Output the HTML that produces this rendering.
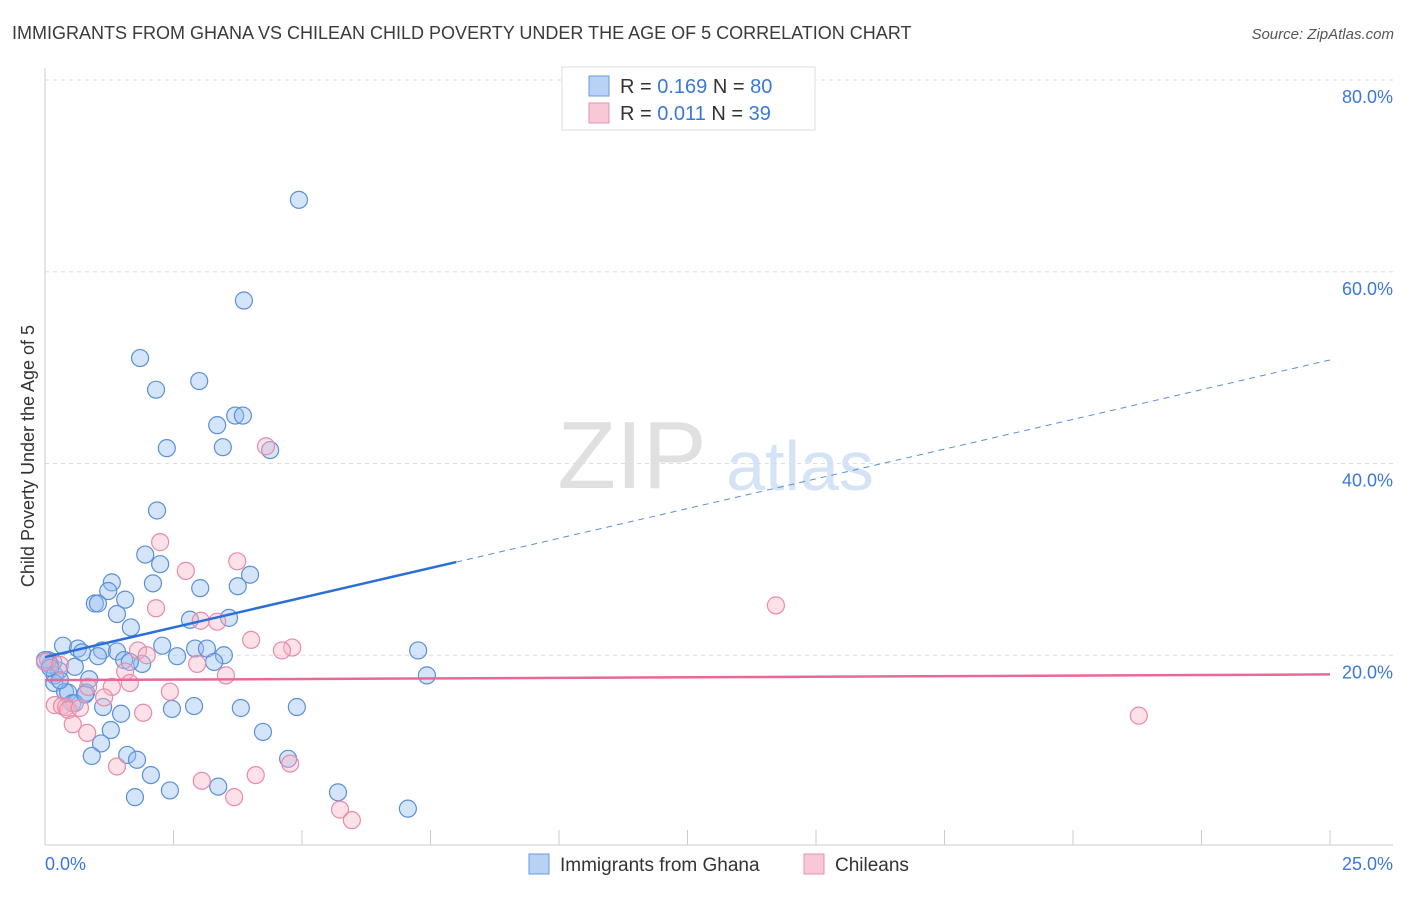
<!DOCTYPE html>
<html><head><meta charset="utf-8"><style>
body{margin:0;background:#fff;font-family:"Liberation Sans",sans-serif;}
svg text{font-family:"Liberation Sans",sans-serif;}
</style></head><body>
<svg id="chart" width="1406" height="892" xmlns="http://www.w3.org/2000/svg">
<text x="12" y="39" font-size="18" fill="#3a3a3a">IMMIGRANTS FROM GHANA VS CHILEAN CHILD POVERTY UNDER THE AGE OF 5 CORRELATION CHART</text>
<text x="1394" y="39" font-size="15" fill="#555" font-style="italic" text-anchor="end">Source: ZipAtlas.com</text>
<text x="632" y="488" font-size="96" fill="#e0e0e0" text-anchor="middle" font-family="Liberation Serif">ZIP</text>
<text x="800" y="490" font-size="70" fill="#d4e3f5" text-anchor="middle">atlas</text>
<g id="grid"></g>
<g id="axes"></g>
<g id="points"></g>
<g id="trends"></g>
<text transform="translate(34,456) rotate(-90)" font-size="18" fill="#333" text-anchor="middle">Child Poverty Under the Age of 5</text>
<g>
<rect x="562" y="67" width="253" height="63" fill="#fff" stroke="#ddd"/>
<rect x="589" y="76" width="20" height="20" fill="#b8d2f5" stroke="#6a9ae0"/>
<rect x="589" y="103" width="20" height="20" fill="#f9c8d6" stroke="#e890aa"/>
<text x="620" y="93" font-size="20" fill="#333">R = <tspan fill="#3b78d8">0.169</tspan>   N = <tspan fill="#3b78d8">80</tspan></text>
<text x="620" y="120" font-size="20" fill="#333">R = <tspan fill="#3b78d8"> 0.011</tspan>   N = <tspan fill="#3b78d8"> 39</tspan></text>
</g>
<g>
<rect x="529" y="854" width="20" height="20" fill="#b8d2f5" stroke="#6a9ae0"/>
<text x="560" y="871" font-size="19" fill="#333">Immigrants from Ghana</text>
<rect x="804" y="854" width="20" height="20" fill="#f9c8d6" stroke="#e890aa"/>
<text x="835" y="871" font-size="19" fill="#333">Chileans</text>
</g>
</svg>
<script>
const xTicks=[0,25];
const yTicks=[20,40,60,80];
const ghanaX=[4.94,3.87,1.85,3.00,2.16,3.70,3.85,3.35,2.37,3.46,4.38,2.18,1.95,2.24,3.99,1.30,2.10,3.02,3.75,1.23,0.97,1.03,1.56,1.40,3.58,2.82,1.67,0.35,0.64,0.72,1.11,1.40,2.28,2.92,3.15,3.48,1.03,1.54,1.89,1.65,2.57,3.29,0.58,0.27,0.16,0.10,0.06,0.19,0.18,0.86,0.39,0.45,0.80,0.53,0.58,1.13,2.90,2.47,4.90,3.81,1.48,1.28,4.24,1.09,0.91,1.60,1.79,4.73,2.06,1.75,2.43,3.37,5.70,7.06,7.26,7.43,0.0,0.10,0.29,0.78];
const ghanaY=[67.5,57.0,51.0,48.6,47.7,45.0,45.0,44.0,41.6,41.7,41.4,35.1,30.5,29.5,28.4,27.6,27.5,27.0,27.2,26.7,25.4,25.4,25.8,24.3,23.9,23.7,22.9,21.0,20.7,20.3,20.5,20.4,21.0,20.7,20.7,20.0,19.9,19.5,19.1,19.3,19.9,19.3,18.8,18.4,19.3,19.0,19.5,17.9,17.1,17.5,16.2,16.1,16.1,15.0,15.0,14.6,14.7,14.4,14.6,14.5,13.9,12.2,12.0,10.8,9.5,9.6,9.1,9.2,7.5,5.2,5.9,6.3,5.7,4.0,20.5,17.9,19.5,18.7,17.4,15.9];
const chileX=[4.30,2.24,3.74,2.74,2.16,3.03,3.35,4.81,4.61,4.01,1.81,1.98,2.96,1.56,3.52,1.65,1.30,0.84,2.43,1.15,0.19,0.33,0.41,0.45,0.68,0.54,0.82,1.91,1.40,3.05,4.10,3.68,4.77,5.74,5.97,14.22,21.28,0.0,0.29];
const chileY=[41.8,31.8,29.8,28.8,24.9,23.6,23.5,20.8,20.5,21.6,20.5,20.0,19.1,18.3,17.9,17.1,16.7,16.7,16.2,15.6,14.8,14.7,14.6,14.3,14.5,12.8,11.9,14.0,8.4,6.9,7.5,5.2,8.7,3.9,2.8,25.2,13.7,19.3,19.0];
const ghanaTrend=[19.8,50.8]; // y at x=0 and x=25
const ghanaSolidEnd=8.0;
const chileTrend=[17.4,18.0];

const NS="http://www.w3.org/2000/svg";
const X0=45,X1=1330,Y0=847,PXY=191.75/20;
const sx=v=>X0+(v-0)/25*(X1-X0);
const sy=v=>Y0-v*PXY;
function mk(t,a,p){const e=document.createElementNS(NS,t);for(const k in a)e.setAttribute(k,a[k]);p.appendChild(e);return e;}
const grid=document.getElementById('grid'),axes=document.getElementById('axes'),pts=document.getElementById('points'),tr=document.getElementById('trends');
yTicks.forEach(v=>{
 const l=mk('line',{x1:45,x2:1393,y1:sy(v),y2:sy(v),stroke:'#ddd','stroke-dasharray':'4,4'},grid);
 
 
 const t=mk('text',{x:1393,y:sy(v)+23,'font-size':18,fill:'#3b78d8','text-anchor':'end'},grid);
 t.textContent=v.toFixed(1)+'%';
 
 
});
const ax=mk('line',{x1:45,x2:45,y1:68,y2:845,stroke:'#ccc'},axes);


const bx=mk('line',{x1:45,x2:1393,y1:845,y2:845,stroke:'#ccc'},axes);


for(let i=1;i<=10;i++){
 const tk=mk('line',{x1:sx(i*2.5),x2:sx(i*2.5),y1:830,y2:845,stroke:'#ccc'},axes);
 
 
}
xTicks.forEach((v,i)=>{
 const t=mk('text',{x:i?1393:45,y:870,'font-size':18,fill:'#3b78d8','text-anchor':i?'end':'start'},axes);
 t.textContent=v.toFixed(1)+'%';
 
 
});
function drawPts(xs,ys,fill,stroke,name){
 xs.forEach((x,i)=>{
  const c=mk('circle',{cx:sx(x),cy:sy(ys[i]),r:8.5,fill:fill,stroke:stroke,'stroke-width':1.2},pts);
  
  
 });
}
drawPts(ghanaX,ghanaY,'rgba(150,190,240,0.4)','#5b8fd9','ghana-point');
drawPts(chileX,chileY,'rgba(248,180,200,0.4)','#e88aa8','chilean-point');
const gy=x=>ghanaTrend[0]+(ghanaTrend[1]-ghanaTrend[0])*x/25;
const l1=mk('line',{x1:sx(0),y1:sy(gy(0)),x2:sx(ghanaSolidEnd),y2:sy(gy(ghanaSolidEnd)),stroke:'#2a6fd6','stroke-width':2.5},tr);


const l2=mk('line',{x1:sx(ghanaSolidEnd),y1:sy(gy(ghanaSolidEnd)),x2:sx(25),y2:sy(gy(25)),stroke:'#5b8fd9','stroke-width':1,'stroke-dasharray':'6,5'},tr);


const l3=mk('line',{x1:sx(0),y1:sy(chileTrend[0]),x2:sx(25),y2:sy(chileTrend[1]),stroke:'#e8689a','stroke-width':2.5},tr);


</script>
</body></html>
